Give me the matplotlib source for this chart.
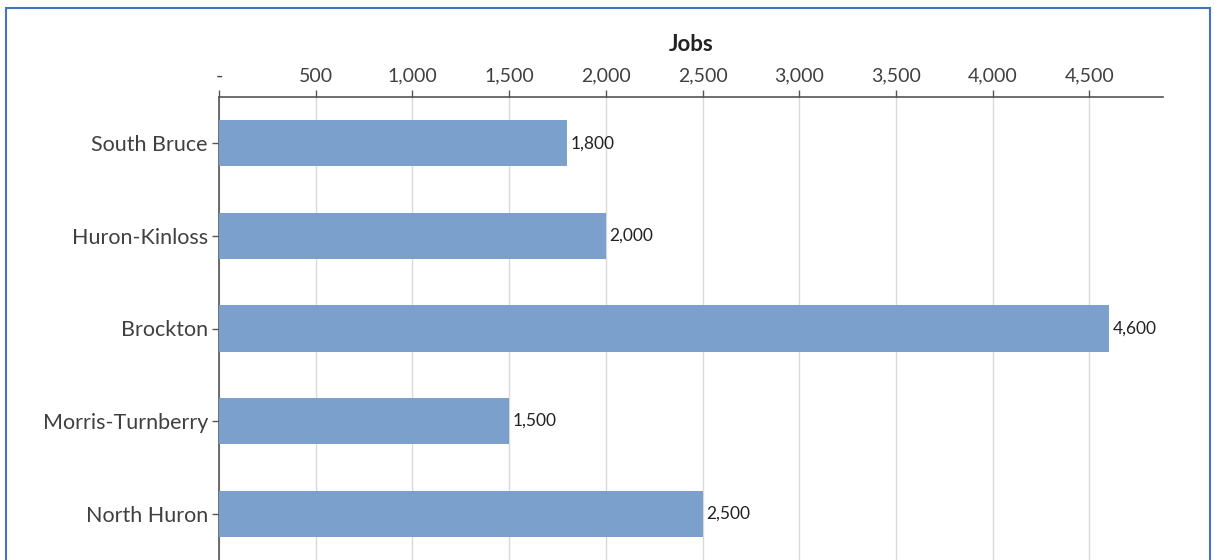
import matplotlib.pyplot as plt
from matplotlib.patches import Rectangle

plt.rcParams['font.family'] = ['Lato', 'DejaVu Sans']

regions = ["South Bruce", "Huron-Kinloss", "Brockton", "Morris-Turnberry", "North Huron"]
jobs = [1800, 2000, 4600, 1500, 2500]
tick_vals = [0, 500, 1000, 1500, 2000, 2500, 3000, 3500, 4000, 4500]
tick_labels = ["-", "500", "1,000", "1,500", "2,000", "2,500", "3,000", "3,500", "4,000", "4,500"]

fig = plt.figure(figsize=(12.14, 5.6), dpi=100)
ax = fig.add_axes([219 / 1214, 0.0, (1163 - 219) / 1214, 1 - 97 / 560])

ypos = range(len(regions))
ax.barh(ypos, jobs, height=0.5, color="#7aa0cb", zorder=3)
for y, v in zip(ypos, jobs):
    ax.text(v + 18, y, f"{v:,}", va="center", ha="left", fontsize=12.5, color="#222222")

ax.set_ylim(4.5, -0.5)
ax.set_xlim(0, 4880)
ax.set_yticks(list(ypos))
ax.set_yticklabels(regions, fontsize=15.5, color="#404040")
ax.xaxis.tick_top()
ax.xaxis.set_label_position("top")
ax.set_xticks(tick_vals)
ax.set_xticklabels(tick_labels, fontsize=14, color="#404040")
ax.set_xlabel("Jobs", fontsize=16, fontweight="bold", color="#222222", labelpad=12)
ax.tick_params(axis="x", length=5, width=1, color="#555555", pad=4)
ax.tick_params(axis="y", length=5, width=1, color="#555555", pad=3)
ax.grid(axis="x", color="#d9d9d9", linewidth=1, zorder=0)
for side in ["right", "bottom"]:
    ax.spines[side].set_visible(False)
for side in ["top", "left"]:
    ax.spines[side].set_color("#555555")
    ax.spines[side].set_linewidth(1.2)

fig.patches.append(Rectangle((6 / 1214, -0.1), 1204 / 1214, 1.1 - 8 / 560,
                             transform=fig.transFigure, fill=False,
                             edgecolor="#4472c4", linewidth=1.5))

fig.savefig("out.png", dpi=100)
